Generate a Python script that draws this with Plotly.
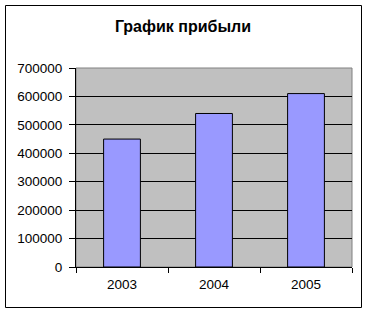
import plotly.graph_objects as go

years = ["2003", "2004", "2005"]
profit = [450000, 540000, 610000]
y_ticks = [0, 100000, 200000, 300000, 400000, 500000, 600000, 700000]

FONT = "Liberation Sans, Arial, sans-serif"

fig = go.Figure(
    go.Bar(
        x=years,
        y=profit,
        marker=dict(color="#9999FF", line=dict(color="black", width=1)),
        width=0.4,
    )
)

W, H = 368, 314
L, R, T, B = 76, 16, 68, 47
pw, ph = W - L - R, H - T - B

def px_x(p):
    return (p - L) / pw

def px_y(p):
    return (H - B - p) / ph

fig.update_layout(
    width=W,
    height=H,
    margin=dict(l=L, r=R, t=T, b=B),
    paper_bgcolor="white",
    plot_bgcolor="#C0C0C0",
    showlegend=False,
    title=dict(
        text="<b>График прибыли</b>",
        font=dict(family=FONT, size=16, color="black"),
        x=183 / W,
        xanchor="center",
        y=1 - 26 / H,
        yanchor="middle",
        xref="container",
        yref="container",
    ),
    font=dict(family=FONT, size=13.5, color="black"),
    xaxis=dict(
        showgrid=False,
        showline=True,
        linecolor="black",
        linewidth=1,
        ticks="outside",
        ticklen=5,
        tickcolor="black",
        tickson="boundaries",
        ticklabelstandoff=5,
        tickfont=dict(family=FONT, size=13.5, color="black"),
        zeroline=False,
    ),
    yaxis=dict(
        range=[0, 700000],
        tickvals=y_ticks,
        ticktext=[str(v) for v in y_ticks],
        showgrid=True,
        gridcolor="black",
        gridwidth=1,
        showline=True,
        linecolor="black",
        linewidth=1,
        ticks="outside",
        ticklen=6,
        tickcolor="black",
        ticklabelstandoff=4,
        tickfont=dict(family=FONT, size=13.5, color="black"),
        zeroline=False,
    ),
    shapes=[
        dict(
            type="rect", xref="paper", yref="paper",
            x0=0, x1=1, y0=0, y1=1,
            line=dict(color="#808080", width=1), layer="below",
        ),
        dict(
            type="rect", xref="paper", yref="paper",
            x0=px_x(5.5), x1=px_x(361.5), y0=px_y(307.5), y1=px_y(5.5),
            line=dict(color="black", width=1),
        ),
    ],
)

fig.write_html("out.html")
